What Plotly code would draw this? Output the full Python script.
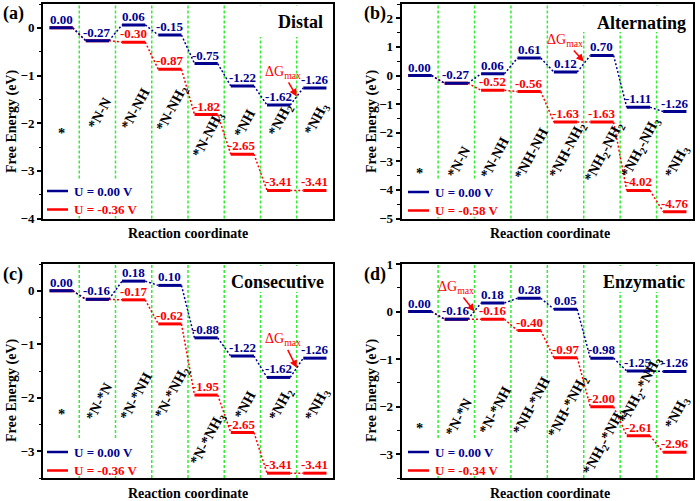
import plotly.graph_objects as go

# ---------------- data ----------------
titles = ["Distal", "Alternating", "Consecutive", "Enzymatic"]
letters = ["(a)", "(b)", "(c)", "(d)"]

species_a = ["*", "*N-N", "*N-NH", "*N-NH<sub>2</sub>", "*N-NH<sub>3</sub>", "*NH", "*NH<sub>2</sub>", "*NH<sub>3</sub>"]
species_b = ["*", "*N-N", "*N-NH", "*NH-NH", "*NH-NH<sub>2</sub>", "*NH<sub>2</sub>-NH<sub>2</sub>", "*NH<sub>2</sub>-NH<sub>3</sub>", "*NH<sub>3</sub>"]
species_c = ["*", "*N-*N", "*N-*NH", "*N-*NH<sub>2</sub>", "*N-*NH<sub>3</sub>", "*NH", "*NH<sub>2</sub>", "*NH<sub>3</sub>"]
species_d = ["*", "*N-*N", "*N-*NH", "*NH-*NH", "*NH-*NH<sub>2</sub>", "*NH<sub>2</sub>-*NH<sub>2</sub>", "*NH<sub>2</sub>-*NH<sub>3</sub>", "*NH<sub>3</sub>"]

g0_a = [0.00, -0.27, 0.06, -0.15, -0.75, -1.22, -1.62, -1.26]
gU_a = [0.00, -0.27, -0.30, -0.87, -1.82, -2.65, -3.41, -3.41]
g0_b = [0.00, -0.27, 0.06, 0.61, 0.12, 0.70, -1.11, -1.26]
gU_b = [0.00, -0.27, -0.52, -0.56, -1.63, -1.63, -4.02, -4.76]
g0_c = [0.00, -0.16, 0.18, 0.10, -0.88, -1.22, -1.62, -1.26]
gU_c = [0.00, -0.16, -0.17, -0.62, -1.95, -2.65, -3.41, -3.41]
g0_d = [0.00, -0.16, 0.18, 0.28, 0.05, -0.98, -1.25, -1.26]
gU_d = [0.00, -0.16, -0.16, -0.40, -0.97, -2.00, -2.61, -2.96]

u_labels = ["U = -0.36 V", "U = -0.58 V", "U = -0.36 V", "U = -0.34 V"]
u0_label = "U = 0.00 V"

y_ranges = [[-4, 0.5], [-5, 2.5], [-3.5, 0.5], [-3.5, 1.0]]
y_ticks = [[0, -1, -2, -3, -4], [2, 1, 0, -1, -2, -3, -4, -5], [0, -1, -2, -3], [1, 0, -1, -2, -3]]

# ---------------- layout helpers ----------------
W, H = 700, 501
BLUE = "#00008f"
RED = "#ff0000"
GREEN = "#33ee33"
FONT = "Liberation Serif"


def px(x):
    return x / W


def py(y):
    return 1 - y / H


# pixel boxes of the 4 plot areas (left, right, top, bottom)
boxes = [(43, 333, 4, 218.5), (401.7, 693, 4, 218.5), (43, 333, 264, 478), (401.7, 693, 264, 478)]
# label y-centres (data units) of the rotated species names
species_y = [
    [-2.2, -1.79, -1.69, -1.71, -2.25, -2.0, -1.94, -1.92],
    [-3.40, -3.02, -2.85, -2.71, -2.6, -2.67, -2.53, -3.02],
    [-2.31, -2.07, -1.97, -1.91, -2.78, -2.13, -2.13, -2.13],
    [-2.45, -2.21, -2.07, -1.96, -2.0, -2.74, -1.65, -2.13],
]
# dGmax arrow: (head x, head y, ax, ay)
arrows = [(7, -1.44, -14, -24), (5, 0.49, -19, -21), (7, -1.44, -14, -28), (2, 0.0, -19, -24)]
title_pos = [(300, 22), (641, 23), (277, 282), (644, 282)]
title_box = [(258, 331, 6, 37), (583, 691, 6, 32), (229, 331, 266, 292), (592, 691, 266, 292)]
letter_pos = [(13, 13), (375, 13), (13, 274), (375, 274)]
ytitle_pos = [(12, 122), (372, 122), (12, 391), (372, 391)]
xtitle_pos = [(188, 233), (550, 233), (188, 493), (550, 493)]
legend_pos = [(47, 191), (408, 192), (47, 452), (408, 452)]
legend_box = [(45, 135, 179, 216), (404, 495, 180, 217), (45, 135, 440, 476), (404, 495, 440, 476)]

species = [species_a, species_b, species_c, species_d]
g0 = [g0_a, g0_b, g0_c, g0_d]
gU = [gU_a, gU_b, gU_c, gU_d]

fig = go.Figure()
shapes = []
annotations = []
layout_axes = {}

L0, L1 = 0.18, 0.82


def paper_text(x, y, text, size, color="black", angle=0, xanchor="center"):
    return dict(x=px(x), y=py(y), xref="paper", yref="paper", text=text, showarrow=False,
                xanchor=xanchor, yanchor="middle", textangle=angle,
                font=dict(family=FONT, size=size, color=color))


for p in range(4):
    sfx = "" if p == 0 else str(p + 1)
    xa, ya = "x" + sfx, "y" + sfx
    l, r, t, b = boxes[p]
    layout_axes["xaxis" + sfx] = dict(
        domain=[px(l), px(r)], range=[0, 8], anchor=ya, showticklabels=False, ticks="",
        showgrid=False, zeroline=False, showline=True, linewidth=2, linecolor="black", mirror=True,
        fixedrange=True, automargin=False,
    )
    layout_axes["yaxis" + sfx] = dict(
        domain=[py(b), py(t)], range=y_ranges[p], anchor=xa, tickvals=y_ticks[p],
        ticks="outside", ticklen=4, tickwidth=1.5, tickcolor="black",
        minor=dict(dtick=0.5, ticks="outside", ticklen=2.5, tickwidth=1.2, tickcolor="black"),
        showgrid=False, zeroline=False, showline=True, linewidth=2, linecolor="black", mirror=True,
        tickfont=dict(family=FONT, size=13, color="black", weight="bold"), fixedrange=True,
        automargin=False,
    )

    for k in range(1, 8):
        shapes.append(dict(type="line", xref=xa, yref=ya + " domain", x0=k, x1=k, y0=0, y1=1,
                           line=dict(color=GREEN, width=1.5, dash="3px,2px"), layer="below"))
    for bx in (title_box[p], legend_box[p]):
        shapes.append(dict(type="rect", xref="paper", yref="paper", x0=px(bx[0]), x1=px(bx[1]),
                           y0=py(bx[3]), y1=py(bx[2]), fillcolor="white", line=dict(width=0), layer="below"))

    for vals, col in ((gU[p], RED), (g0[p], BLUE)):
        lx, ly, cx, cy = [], [], [], []
        for i, v in enumerate(vals):
            lx += [i + L0, i + L1, None]
            ly += [v, v, None]
            if i < len(vals) - 1:
                cx += [i + L1, i + 1 + L0, None]
                cy += [v, vals[i + 1], None]
        fig.add_trace(go.Scatter(x=cx, y=cy, mode="lines", xaxis=xa, yaxis=ya, showlegend=False,
                                 line=dict(color=col, width=1.5, dash="2px,2px"), hoverinfo="skip"))
        fig.add_trace(go.Scatter(x=lx, y=ly, mode="lines", xaxis=xa, yaxis=ya, showlegend=False,
                                 line=dict(color=col, width=3), hoverinfo="skip"))

    for i, v in enumerate(g0[p]):
        annotations.append(dict(x=i + 0.5, y=v, xref=xa, yref=ya, text="<b>%.2f</b>" % v, showarrow=False,
                                xanchor="center", yanchor="bottom", yshift=-1,
                                font=dict(family=FONT, size=13, color=BLUE)))
    for i, v in enumerate(gU[p]):
        if i < 2:
            continue
        annotations.append(dict(x=i + 0.5, y=v, xref=xa, yref=ya, text="<b>%.2f</b>" % v, showarrow=False,
                                xanchor="center", yanchor="bottom", yshift=-1,
                                font=dict(family=FONT, size=13, color=RED)))

    for i, s in enumerate(species[p]):
        annotations.append(dict(x=i + (0.5 if i == 0 else 0.56), y=species_y[p][i], xref=xa, yref=ya,
                                text="<b>" + s + "</b>", showarrow=False, textangle=-62 if i > 0 else 0,
                                xanchor="center", yanchor="middle",
                                font=dict(family=FONT, size=14.5, color="black")))

    hx, hy, ax, ay = arrows[p]
    annotations.append(dict(x=hx, y=hy, xref=xa, yref=ya, text="ΔG<sub>max</sub>", showarrow=True,
                            ax=ax, ay=ay, arrowcolor=RED, arrowwidth=1.5, arrowhead=2, arrowsize=1,
                            standoff=0, font=dict(family=FONT, size=14, color=RED)))

    annotations.append(paper_text(*title_pos[p], "<b>" + titles[p] + "</b>", 18))
    annotations.append(paper_text(*letter_pos[p], "<b>" + letters[p] + "</b>", 18))
    annotations.append(paper_text(*ytitle_pos[p], "<b>Free Energy (eV)</b>", 14, angle=-90))
    annotations.append(paper_text(*xtitle_pos[p], "<b>Reaction coordinate</b>", 14))

    lx0, ly0 = legend_pos[p]
    for j, (name, col) in enumerate(((u0_label, BLUE), (u_labels[p], RED))):
        yy = ly0 + j * 18.5
        shapes.append(dict(type="line", xref="paper", yref="paper", x0=px(lx0), x1=px(lx0 + 21),
                           y0=py(yy), y1=py(yy), line=dict(color=col, width=2.5)))
        annotations.append(paper_text(lx0 + 25, yy, "<b>" + name + "</b>", 13, color=col, xanchor="left"))

fig.update_layout(
    width=W, height=H, margin=dict(l=0, r=0, t=0, b=0, autoexpand=False),
    paper_bgcolor="white", plot_bgcolor="white",
    shapes=shapes, annotations=annotations, showlegend=False,
    **layout_axes,
)

fig.write_html("out.html", config={"displayModeBar": False},
               post_script="document.body.style.margin='0px';document.body.style.overflow='hidden';")
